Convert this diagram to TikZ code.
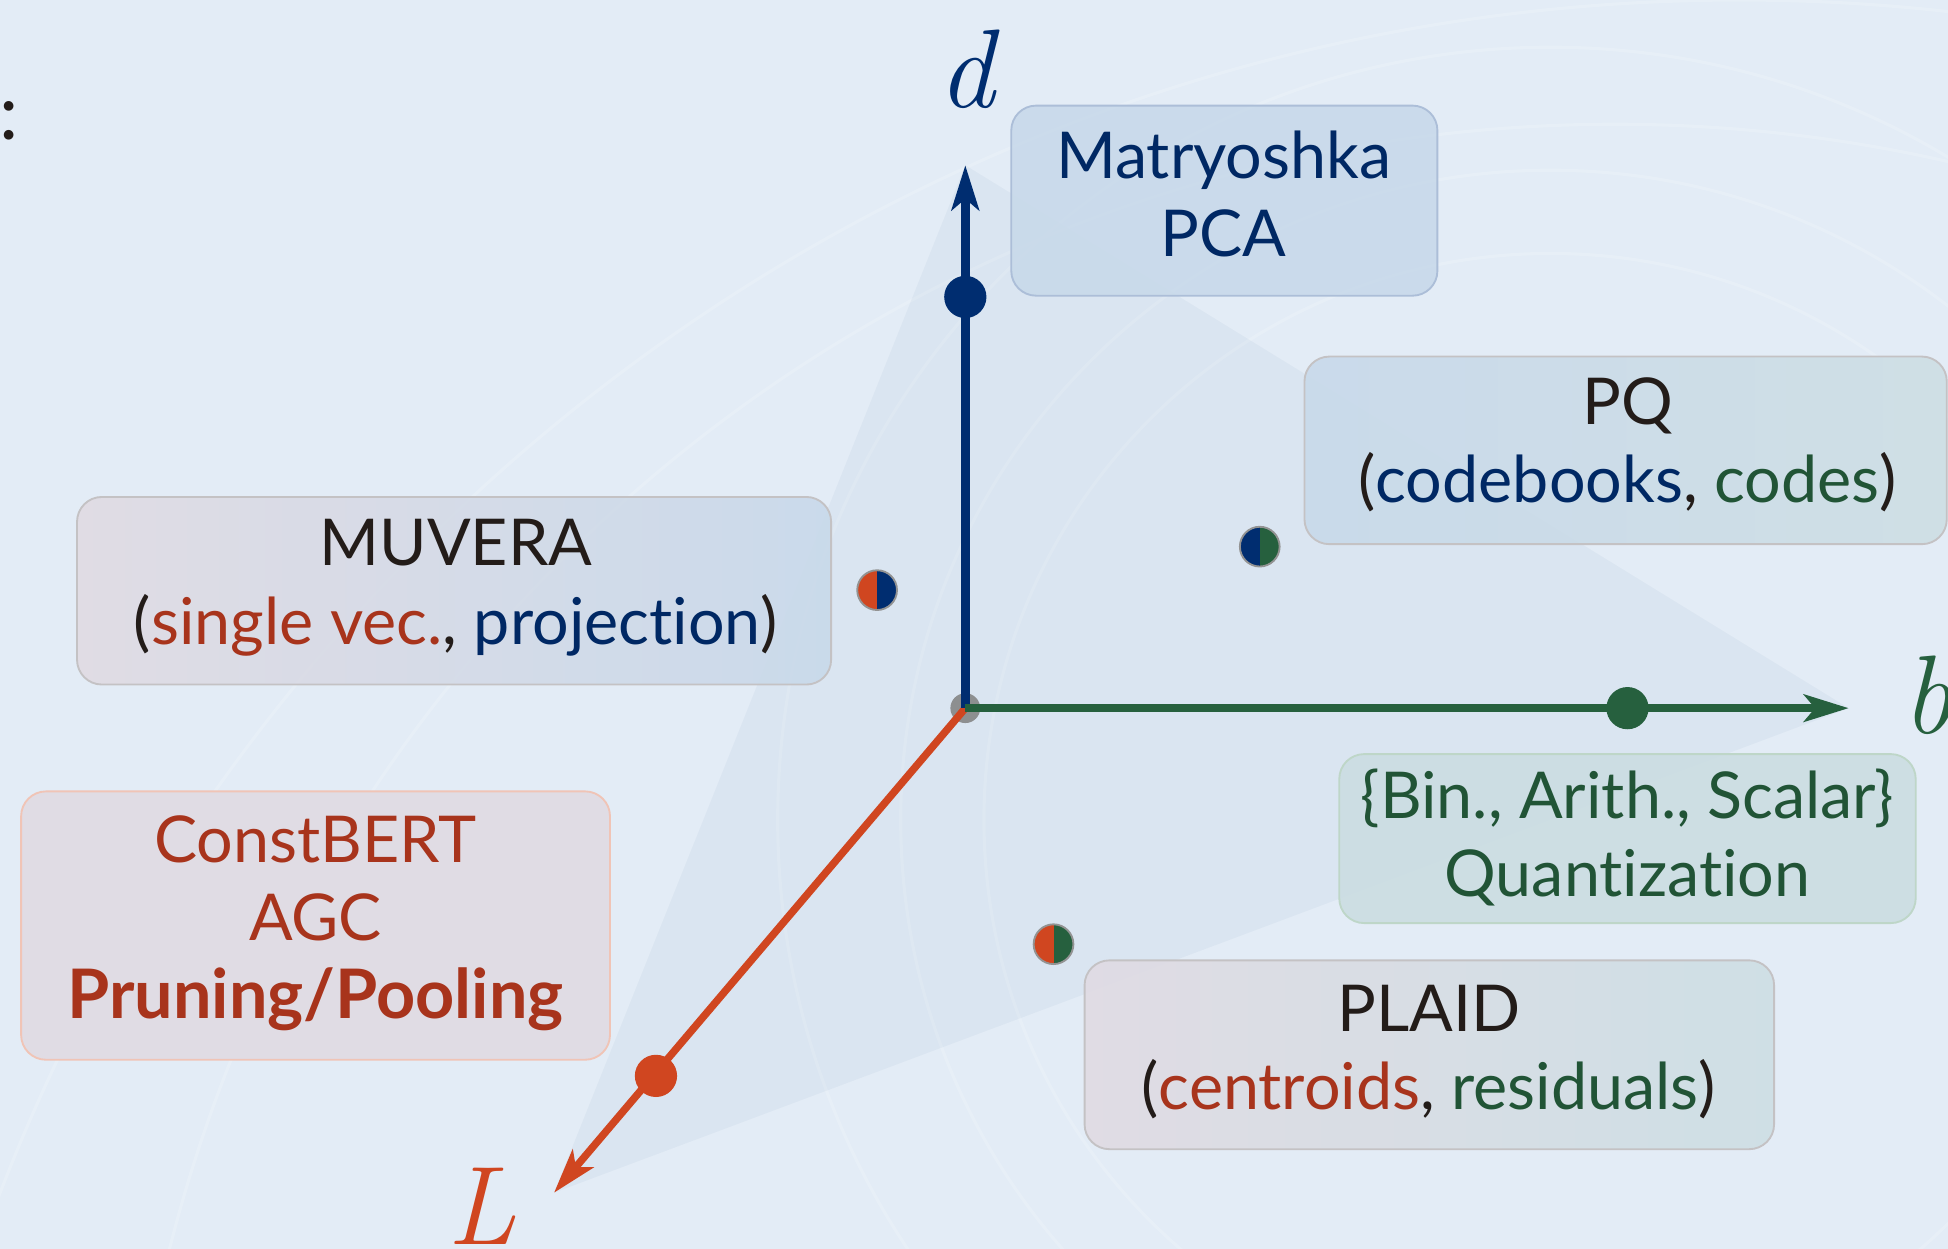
\documentclass[tikz,border=0pt]{standalone}
\usepackage{fontspec}
\setmainfont{Lato}[Ligatures={NoCommon,NoRare}]
\newfontfamily\lmfont{Latin Modern Roman}
\usetikzlibrary{arrows.meta}
\definecolor{bgc}{RGB}{227,236,246}
\definecolor{navy}{RGB}{0,45,112}
\definecolor{navytxt}{RGB}{0,40,100}
\definecolor{grn}{RGB}{38,96,62}
\definecolor{grntxt}{RGB}{33,84,54}
\definecolor{org}{RGB}{208,70,32}
\definecolor{orgtxt}{RGB}{168,52,28}
\definecolor{dark}{RGB}{35,28,25}
\definecolor{bluebox}{RGB}{200,217,234}
\definecolor{bluebord}{RGB}{172,190,216}
\definecolor{pinkbox}{RGB}{224,219,227}
\definecolor{tealbox}{RGB}{205,222,228}
\definecolor{greybord}{RGB}{196,194,196}
\definecolor{salmbord}{RGB}{240,196,182}
\definecolor{grnbox}{RGB}{203,221,226}
\definecolor{grnbord}{RGB}{190,214,200}
\tikzset{
  boxbase/.style={rounded corners=20pt, line width=1.5pt, inner sep=0pt, fill opacity=0.9},
  txt/.style={align=center, inner sep=0pt, font=\fontsize{52}{63}\selectfont},
  axislbl/.style={inner sep=0pt, font=\lmfont\itshape\fontsize{90}{90}\selectfont},
  axisline/.style={line width=7pt, -{Stealth[length=36pt, width=22pt, inset=9pt]}},
  axisdot/.style={circle, inner sep=0pt, minimum size=34pt, fill=#1},
  halfdot/.style 2 args={circle, inner sep=0pt, minimum size=32pt, draw=gray!85, line width=1.5pt,
    path picture={\fill[#1] (path picture bounding box.south west) rectangle (path picture bounding box.north);
                  \fill[#2] (path picture bounding box.south) rectangle (path picture bounding box.north east);}},
  bgarc/.style={white, opacity=0.16, line width=2.5pt}
}
\begin{document}
\begin{tikzpicture}[x=1pt,y=-1pt]
\fill[bgc] (0,0) rectangle (1568,1005);
\useasboundingbox (0,0) rectangle (1568,1005);
% faint background arcs
\begin{scope}
\clip (0,0) rectangle (1568,1005);
\draw[bgarc] (1248,660) circle (622);
\draw[bgarc] (1248,660) circle (523);
\draw[bgarc] (1248,660) circle (456);
\draw[bgarc] (1400,1500) circle (1500);
\draw[bgarc] (1300,1300) circle (1200);
\end{scope}
% axis points
\coordinate (O) at (777,570);
\coordinate (dtip) at (777,133);
\coordinate (btip) at (1488,570);
\coordinate (Ltip) at (446,960);
% translucent plane
\fill[navy, opacity=0.035] (dtip) -- (btip) -- (Ltip) -- cycle;
% colon at left edge
\node[inner sep=0pt, anchor=base, text=dark, font=\fontsize{62}{62}\selectfont] (colon) at (7,112) {:};
% boxes
\node[boxbase, draw=bluebord, fill=bluebox, minimum width=343pt, minimum height=153pt] (mbox) at (985.5,161.5) {};
\node[boxbase, draw=greybord, left color=bluebox, right color=tealbox, minimum width=517pt, minimum height=151pt] (pqbox) at (1308.5,362.5) {};
\node[boxbase, draw=greybord, left color=pinkbox, right color=bluebox, minimum width=607pt, minimum height=151pt] (mubox) at (365.5,475.5) {};
\node[boxbase, draw=salmbord, fill=pinkbox, minimum width=474pt, minimum height=216pt] (cbox) at (254,745) {};
\node[boxbase, draw=grnbord, fill=grnbox, minimum width=464pt, minimum height=136pt] (qbox) at (1310,675) {};
\node[boxbase, draw=greybord, left color=pinkbox, right color=tealbox, minimum width=555pt, minimum height=152pt] (pbox) at (1150.5,849) {};
% texts
\node[txt, text=navytxt] (mtxt) at (985,156) {Matryoshka\\PCA};
\node[txt, text=dark] (pqtxt) at (1310,358) {PQ\\(\textcolor{navytxt}{codebooks}, \textcolor{grntxt}{codes})};
\node[txt, text=dark] (mutxt) at (367,473) {MUVERA\\(\textcolor{orgtxt}{single vec.}, \textcolor{navytxt}{projection})};
\node[txt, text=orgtxt] (ctxt) at (254,743) {ConstBERT\\AGC\\{\fontsize{55}{63}\selectfont\bfseries Pruning/Pooling}};
\node[txt, text=grntxt] (qtxt) at (1310,674) {\{Bin., Arith., Scalar\}\\Quantization};
\node[txt, text=dark] (ptxt) at (1150,847) {PLAID\\(\textcolor{orgtxt}{centroids}, \textcolor{grntxt}{residuals})};
% axes
\fill[gray, opacity=0.85] (O) circle (12);
\draw[axisline, org, line width=6pt] (O) -- (Ltip);
\draw[axisline, navy] (O) -- (dtip);
\draw[axisline, grn, line width=6pt] (O) -- (btip);
\node[axisdot=navy] (ddot) at (777,239) {};
\node[axisdot=grn] (bdot) at (1310,570) {};
\node[axisdot=org] (Ldot) at (528,866) {};
% axis labels
\node[axislbl, text=navy] (dlab) at (778,56) {d};
\node[axislbl, text=grn] (blab) at (1552,560) {b};
\node[axislbl, text=org, anchor=north] (Llab) at (388,940) {L};
% mixed dots
\node[halfdot={org}{navy}] (mudot) at (706,475) {};
\node[halfdot={navy}{grn}] (pqdot) at (1014,440) {};
\node[halfdot={org}{grn}] (pdot) at (848,760) {};
\end{tikzpicture}
\end{document}
